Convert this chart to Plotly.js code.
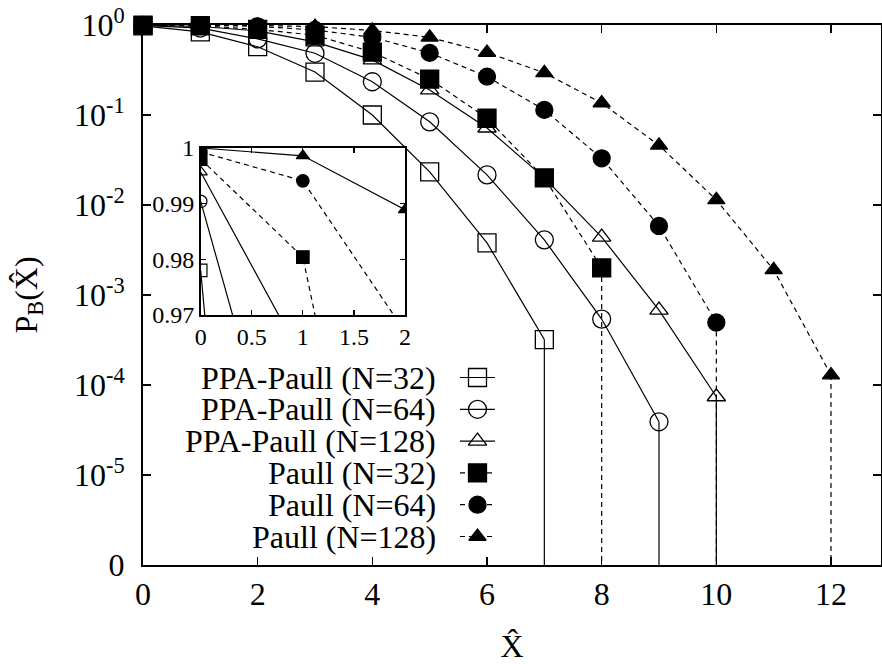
<!DOCTYPE html>
<html><head><meta charset="utf-8">
<script src="https://cdn.plot.ly/plotly-3.0.1.min.js"></script>
<style>html,body{margin:0;padding:0;background:#fff}#chart{width:882px;height:664px}</style>
</head><body><div id="chart"></div>
<script>
// ---------------- data ----------------
const xVals = [0, 1, 2, 3, 4, 5, 6, 7, 8, 9, 10, 11, 12];
// P_B(X^) at X^ = 0,1,2,... ; a trailing 0 means the probability drops to zero
const ppa32    = [0.978, 0.84, 0.574, 0.30, 0.10, 0.0233, 0.0038, 3.2e-4, 0];
const ppa64    = [0.9904, 0.925, 0.70, 0.485, 0.234, 0.084, 0.0216, 0.0041, 5.4e-4, 3.9e-5, 0];
const ppa128   = [0.9957, 0.962, 0.86, 0.65, 0.41, 0.19, 0.0717, 0.020, 0.0044, 6.8e-4, 7.4e-5, 0];
const paull32  = [0.998, 0.9804, 0.893, 0.77, 0.50, 0.251, 0.092, 0.020, 0.0020, 0];
const paull64  = [0.9993, 0.9941, 0.967, 0.88, 0.73, 0.49, 0.267, 0.114, 0.033, 0.00585, 4.95e-4, 0];
const paull128 = [1.0, 0.9986, 0.9889, 0.96, 0.87, 0.73, 0.495, 0.294, 0.136, 0.046, 0.0114, 0.0019, 1.29e-4, 0];
const seriesNames = ['PPA-Paull (N=32)', 'PPA-Paull (N=64)', 'PPA-Paull (N=128)',
                     'Paull (N=32)', 'Paull (N=64)', 'Paull (N=128)'];
const seriesValues = [ppa32, ppa64, ppa128, paull32, paull64, paull128];

const xTickVals = [0, 2, 4, 6, 8, 10, 12];
const yTickVals = [1e-6, 1e-5, 1e-4, 1e-3, 1e-2, 1e-1, 1];
const yTickText = ['0', '10<sup>-5</sup>', '10<sup>-4</sup>', '10<sup>-3</sup>', '10<sup>-2</sup>', '10<sup>-1</sup>', '10<sup>0</sup>'];
const insetXTicks = [0, 0.5, 1, 1.5, 2];
const insetYTicks = [0.97, 0.98, 0.99, 1];
const insetYText = ['0.97', '0.98', '0.99', '1'];

// ---------------- styles ----------------
const ZERO_LEVEL = 1e-6;   // the "0" level at the bottom of the log axis
const FONT = '"Liberation Serif", "Times New Roman", serif';
const DASH = '5px,4px';
const styles = [
  {symbol: 'square-open',      size: 18, isize: 12.5, dash: 'solid', idash: 'solid'},
  {symbol: 'circle-open',      size: 18, isize: 12.5, dash: 'solid', idash: 'solid'},
  {symbol: 'triangle-up-open', size: 16, isize: 11.5, dash: 'solid', idash: 'solid'},
  {symbol: 'square',           size: 18, isize: 12.5, dash: DASH,    idash: DASH},
  {symbol: 'circle',           size: 17, isize: 12.5, dash: DASH,    idash: DASH},
  {symbol: 'triangle-up',      size: 15, isize: 11.5, dash: DASH,    idash: 'solid'}
];
const LW = 1.2;
// legend key placement in pixels inside the plot area (from left / from top)
const LEG = {lineX0: 317, lineX1: 352, markX: 334.5, textX: 295, top: 352.5, gap: 31.8};

const traces = [];
const annotations = [];
seriesValues.forEach((vals, i) => {
  const st = styles[i];
  const xs = [], ys = [];
  let dropX = null, dropY = null;
  vals.forEach((v, k) => {
    if (v > 0) { xs.push(xVals[k]); ys.push(v); }
    else if (dropX === null) { dropX = xVals[k - 1]; dropY = vals[k - 1]; }
  });
  const line = {color: '#000', width: LW, dash: st.dash};
  const marker = {symbol: st.symbol, size: st.size, color: '#000', line: {color: '#000', width: 1.3}};
  if (dropX !== null) {
    traces.push({x: [dropX, dropX], y: [dropY, ZERO_LEVEL], mode: 'lines', line: line,
                 showlegend: false, hoverinfo: 'skip'});
  }
  traces.push({x: xs, y: ys, mode: 'lines+markers', line: line, marker: marker,
               name: seriesNames[i], showlegend: false, cliponaxis: false});
  // inset
  traces.push({x: xs, y: ys, xaxis: 'x2', yaxis: 'y2', mode: 'lines',
               line: {color: '#000', width: LW, dash: st.idash}, showlegend: false, hoverinfo: 'skip'});
  traces.push({x: xs, y: ys, xaxis: 'x2', yaxis: 'y2', mode: 'markers',
               marker: {symbol: st.symbol, size: st.isize, color: '#000', line: {color: '#000', width: 1.2}},
               showlegend: false, hoverinfo: 'skip'});
  // legend key (gnuplot style: text, then line with marker)
  const ry = LEG.top + i * LEG.gap;
  traces.push({x: [LEG.lineX0, LEG.lineX1], y: [ry, ry], xaxis: 'x3', yaxis: 'y3', mode: 'lines',
               line: line, showlegend: false, hoverinfo: 'skip'});
  traces.push({x: [LEG.markX], y: [ry], xaxis: 'x3', yaxis: 'y3', mode: 'markers', marker: marker,
               showlegend: false, hoverinfo: 'skip'});
  annotations.push({xref: 'x3', yref: 'y3', x: LEG.textX, y: ry, text: seriesNames[i],
                    showarrow: false, xanchor: 'right', yanchor: 'middle',
                    font: {family: FONT, size: 32, color: '#000'}});
});

const axBase = {showgrid: false, zeroline: false, showline: true, linecolor: '#000',
                ticks: 'inside', tickcolor: '#000', mirror: 'ticks'};
const layout = {
  width: 882, height: 664,
  margin: {l: 143, r: 1, t: 25, b: 99, pad: 0},
  paper_bgcolor: '#fff', plot_bgcolor: '#fff',
  font: {family: FONT, size: 32, color: '#000'},
  showlegend: false,
  xaxis: Object.assign({}, axBase, {
    range: [0, 12.872], tickvals: xTickVals, ticklen: 8, tickwidth: 1.5, linewidth: 2,
    tickfont: {family: FONT, size: 32},
    title: {text: 'X\u0302', font: {family: FONT, size: 32}, standoff: 28}
  }),
  yaxis: Object.assign({}, axBase, {
    type: 'log', range: [-6, 0], tickvals: yTickVals, ticktext: yTickText,
    ticklen: 8, tickwidth: 1.5, linewidth: 2,
    tickfont: {family: FONT, size: 32}, ticklabelstandoff: 10,
    title: {text: 'P<sub>B</sub>(X\u0302)', font: {family: FONT, size: 32}, standoff: 27}
  }),
  xaxis2: Object.assign({}, axBase, {
    domain: [0.0782, 0.355], anchor: 'y2', range: [0, 2], tickvals: insetXTicks,
    ticklen: 5, tickwidth: 1.2, linewidth: 1.7, tickfont: {family: FONT, size: 24}
  }),
  yaxis2: Object.assign({}, axBase, {
    domain: [0.463, 0.7722], anchor: 'x2', range: [0.97, 1], tickvals: insetYTicks, ticktext: insetYText,
    ticklen: 5, tickwidth: 1.2, linewidth: 1.7, tickfont: {family: FONT, size: 24}
  }),
  xaxis3: {overlaying: 'x', anchor: 'y3', range: [0, 738], visible: false, fixedrange: true},
  yaxis3: {overlaying: 'y', anchor: 'x3', range: [540, 0], visible: false, fixedrange: true},
  annotations: annotations
};

Plotly.newPlot('chart', traces, layout, {staticPlot: true, displayModeBar: false});
</script>
</body></html>
